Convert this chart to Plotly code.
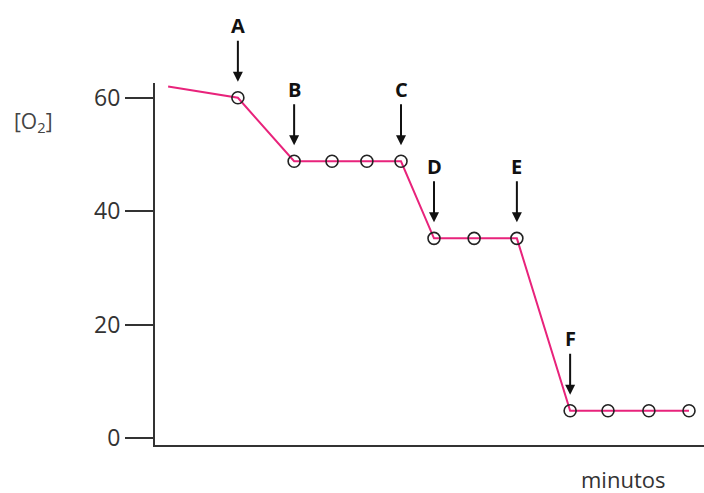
import plotly.graph_objects as go

# minutos (estimated positions) and [O2] values
minutos = [0.35, 2.21, 3.71, 4.72, 5.65, 6.56, 7.44, 8.51, 9.65, 11.07, 12.08, 13.17, 14.24]
o2 = [62, 60, 48.8, 48.8, 48.8, 48.8, 35.2, 35.2, 35.2, 4.8, 4.8, 4.8, 4.8]

# points marked with arrows
etiquetas = ["A", "B", "C", "D", "E", "F"]
idx_etiquetas = [1, 2, 5, 6, 8, 9]

y_ticks = [0, 20, 40, 60]

W, H = 704, 493
ml, mr, mt, mb = 155, 0, 83, 48
pw, ph = W - ml - mr, H - mt - mb


def px_to_paper(x, y):
    # pixel position -> paper coords
    return (x - ml) / pw, 1 - (y - mt) / ph


fig = go.Figure()

fig.add_trace(go.Scatter(
    x=minutos, y=o2, mode="lines",
    line=dict(color="#e8237b", width=2),
    hoverinfo="skip", cliponaxis=False,
))
fig.add_trace(go.Scatter(
    x=minutos[1:], y=o2[1:], mode="markers",
    marker=dict(symbol="circle-open", size=12, color="#222", line=dict(width=1.6)),
    cliponaxis=False,
))

for lab, i in zip(etiquetas, idx_etiquetas):
    fig.add_annotation(
        x=minutos[i], y=o2[i], text="<b>" + lab + "</b>",
        showarrow=True, ax=0, ay=-72,
        arrowhead=2, arrowsize=1, arrowwidth=2, arrowcolor="#111",
        standoff=16, font=dict(size=20, color="#111"),
    )

lx, ly = px_to_paper(33, 122)
fig.add_annotation(
    x=lx, y=ly, xref="paper", yref="paper", text="[O<sub>2</sub>]",
    xanchor="center", yanchor="middle",
    showarrow=False, font=dict(size=21, color="#444"),
)
mx, my = px_to_paper(623, 479)
fig.add_annotation(
    x=mx, y=my, xref="paper", yref="paper", text="minutos",
    xanchor="center", yanchor="middle", borderpad=0,
    showarrow=False, font=dict(size=22, color="#333"),
)

fig.update_layout(
    width=W, height=H,
    margin=dict(l=ml, r=mr, t=mt, b=mb),
    paper_bgcolor="white", plot_bgcolor="white",
    showlegend=False,
    font=dict(family="Open Sans, sans-serif", size=18, color="#333"),
    xaxis=dict(
        range=[0, 14.64], showgrid=False, zeroline=False,
        showline=True, linecolor="#333", linewidth=2,
        showticklabels=False, ticks="",
    ),
    yaxis=dict(
        range=[-1.24, 62.6], showgrid=False, zeroline=False,
        showline=True, linecolor="#333", linewidth=2,
        tickvals=y_ticks, ticks="outside", ticklen=28, tickwidth=2, tickcolor="#333",
        tickfont=dict(size=23, color="#333"),
    ),
)

# drop the default page margin so the figure fills the window
fig.write_html(
    "out.html",
    config={"displayModeBar": False},
    post_script="document.body.style.margin='0';document.body.style.overflow='hidden';",
)
